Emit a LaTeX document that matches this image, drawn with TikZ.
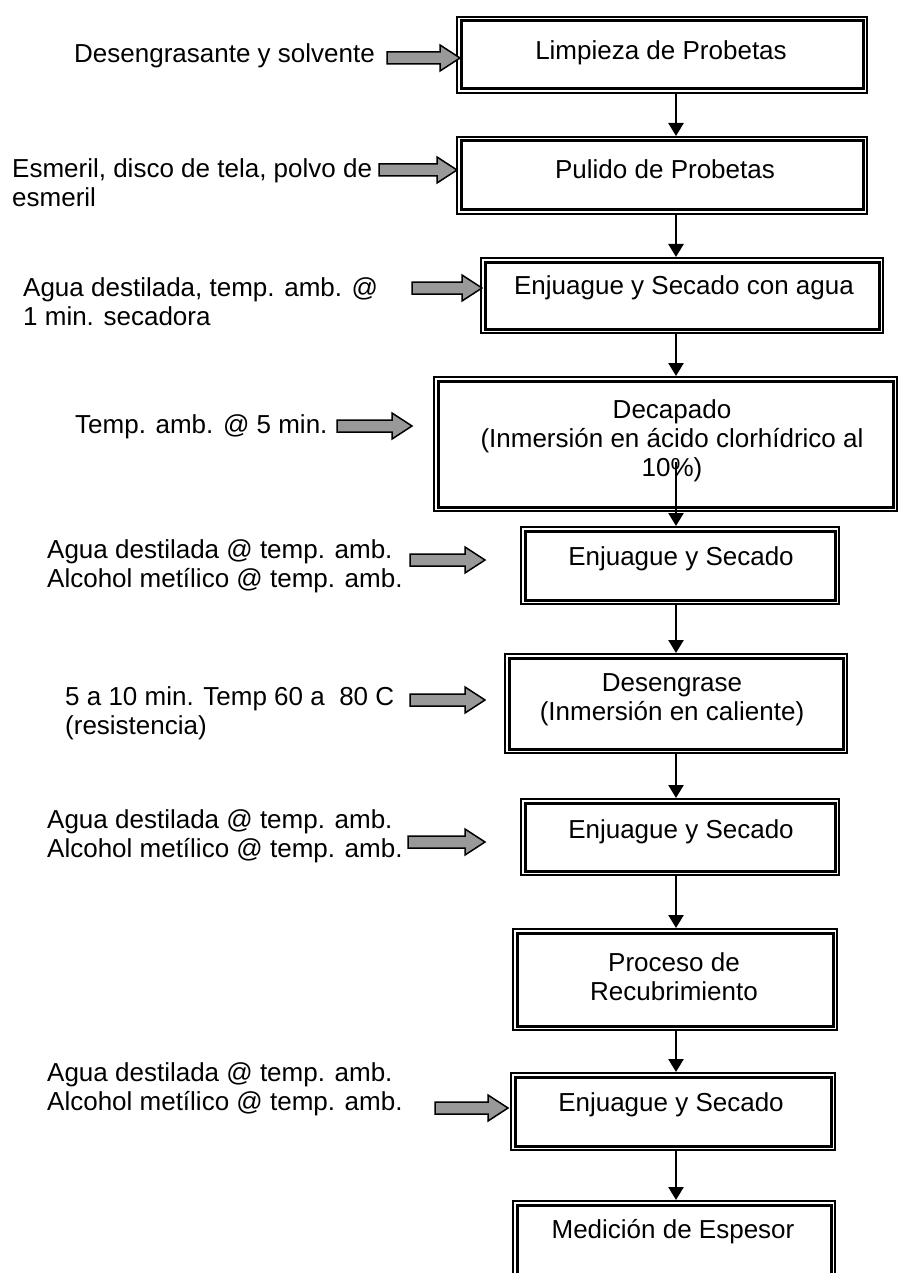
\documentclass[tikz,border=0pt]{standalone}
\usepackage{fontspec}
\setmainfont{Liberation Sans}
\usetikzlibrary{arrows.meta,calc}
\newcommand\flowbox[5]{%
  \node[box, minimum width={#3-#2-2}, minimum height={#5-#4-2}] (#1) at ({(#2+#3)/2},{(#4+#5)/2}) {};
  \draw[innerline] ($(#1.south west)+(5,-5)$) rectangle ($(#1.north east)+(-5,5)$);}
\newcommand\grayarrow[3]{\draw[garr] (#1,#3-6) -- ({#2-20},#3-6) -- ({#2-20},#3-13) -- (#2,#3) -- ({#2-20},#3+13) -- ({#2-20},#3+6) -- (#1,#3+6) -- cycle;}
\begin{document}
\begin{tikzpicture}[x=1pt,y=-1pt,
  every node/.style={font=\fontsize{26}{29}\selectfont, inner sep=0pt},
  box/.style={draw=black, line width=2pt},
  innerline/.style={draw=black, line width=3pt},
  txt/.style={align=center},
  side/.style={align=left, anchor=west},
  varr/.style={line width=2.5pt, -{Triangle[length=13pt,width=15pt]}},
  garr/.style={draw=black, line width=1.5pt, fill=black!40, line join=miter}]
\useasboundingbox (0,0) rectangle (906,1273);
\clip (0,0) rectangle (906,1273);
% boxes
\flowbox{b1}{456}{868}{16}{94}
\flowbox{b2}{456}{868}{136}{215}
\flowbox{b3}{480}{884}{257}{334}
\flowbox{b4}{433}{898}{376}{512}
\flowbox{b5}{520}{840}{526}{605}
\flowbox{b6}{504}{848}{653}{754}
\flowbox{b7}{520}{840}{798}{876}
\flowbox{b8}{512}{838}{928}{1031}
\flowbox{b9}{510}{836}{1072}{1151}
\flowbox{b10}{512}{836}{1200}{1300}
% box texts
\node[txt] (t1) at (661,53) {Limpieza de Probetas};
\node[txt] (t2) at (665,169) {Pulido de Probetas};
\node[txt] (t3) at (684,288) {Enjuague y Secado con agua};
\node[txt] (t4) at (672,441) {Decapado\\(Inmersión en ácido clorhídrico al\\10\%)};
\node[txt] (t5) at (681,559) {Enjuague y Secado};
\node[txt] (t6) at (672,700) {Desengrase\\(Inmersión en caliente)};
\node[txt] (t7) at (681,832) {Enjuague y Secado};
\node[txt] (t8) at (674,977) {Proceso de\\Recubrimiento};
\node[txt] (t9) at (671,1105) {Enjuague y Secado};
\node[txt] (t10) at (673,1232) {Medición de Espesor};
% side labels
\node[anchor=east] (l1) at (375,56) {Desengrasante y solvente};
\node[side] (l2) at (12,183) {Esmeril, disco de tela, polvo de\\esmeril};
\node[side] (l3) at (23,302) {Agua destilada, temp. amb. @\\1 min. secadora};
\node[side] (l4) at (75,427) {Temp. amb. @ 5 min.};
\node[side] (l5) at (47,566) {Agua destilada @ temp. amb.\\Alcohol metílico @ temp. amb.};
\node[side] (l6) at (65,713) {5 a 10 min. Temp 60 a\ \ 80 C\\(resistencia)};
\node[side] (l7) at (47,836) {Agua destilada @ temp. amb.\\Alcohol metílico @ temp. amb.};
\node[side] (l8) at (47,1089) {Agua destilada @ temp. amb.\\Alcohol metílico @ temp. amb.};
% gray block arrows
\grayarrow{387}{460}{58}
\grayarrow{379}{457}{170}
\grayarrow{412}{482}{288}
\grayarrow{337}{412}{426}
\grayarrow{410}{485}{560}
\grayarrow{410}{485}{700}
\grayarrow{408}{485}{842}
\grayarrow{435}{508}{1108}
% flow arrows
\coordinate (ax) at (676,0);
\coordinate (c45) at (676,462);
\draw[varr] (ax |- b1.south) -- (ax |- b2.north);
\draw[varr] (ax |- b2.south) -- (ax |- b3.north);
\draw[varr] (ax |- b3.south) -- (ax |- b4.north);
\draw[varr] (c45) -- (ax |- b5.north);
\draw[varr] (ax |- b5.south) -- (ax |- b6.north);
\draw[varr] (ax |- b6.south) -- (ax |- b7.north);
\draw[varr] (ax |- b7.south) -- (ax |- b8.north);
\draw[varr] (ax |- b8.south) -- (ax |- b9.north);
\draw[varr] (ax |- b9.south) -- (ax |- b10.north);
\end{tikzpicture}
\end{document}
